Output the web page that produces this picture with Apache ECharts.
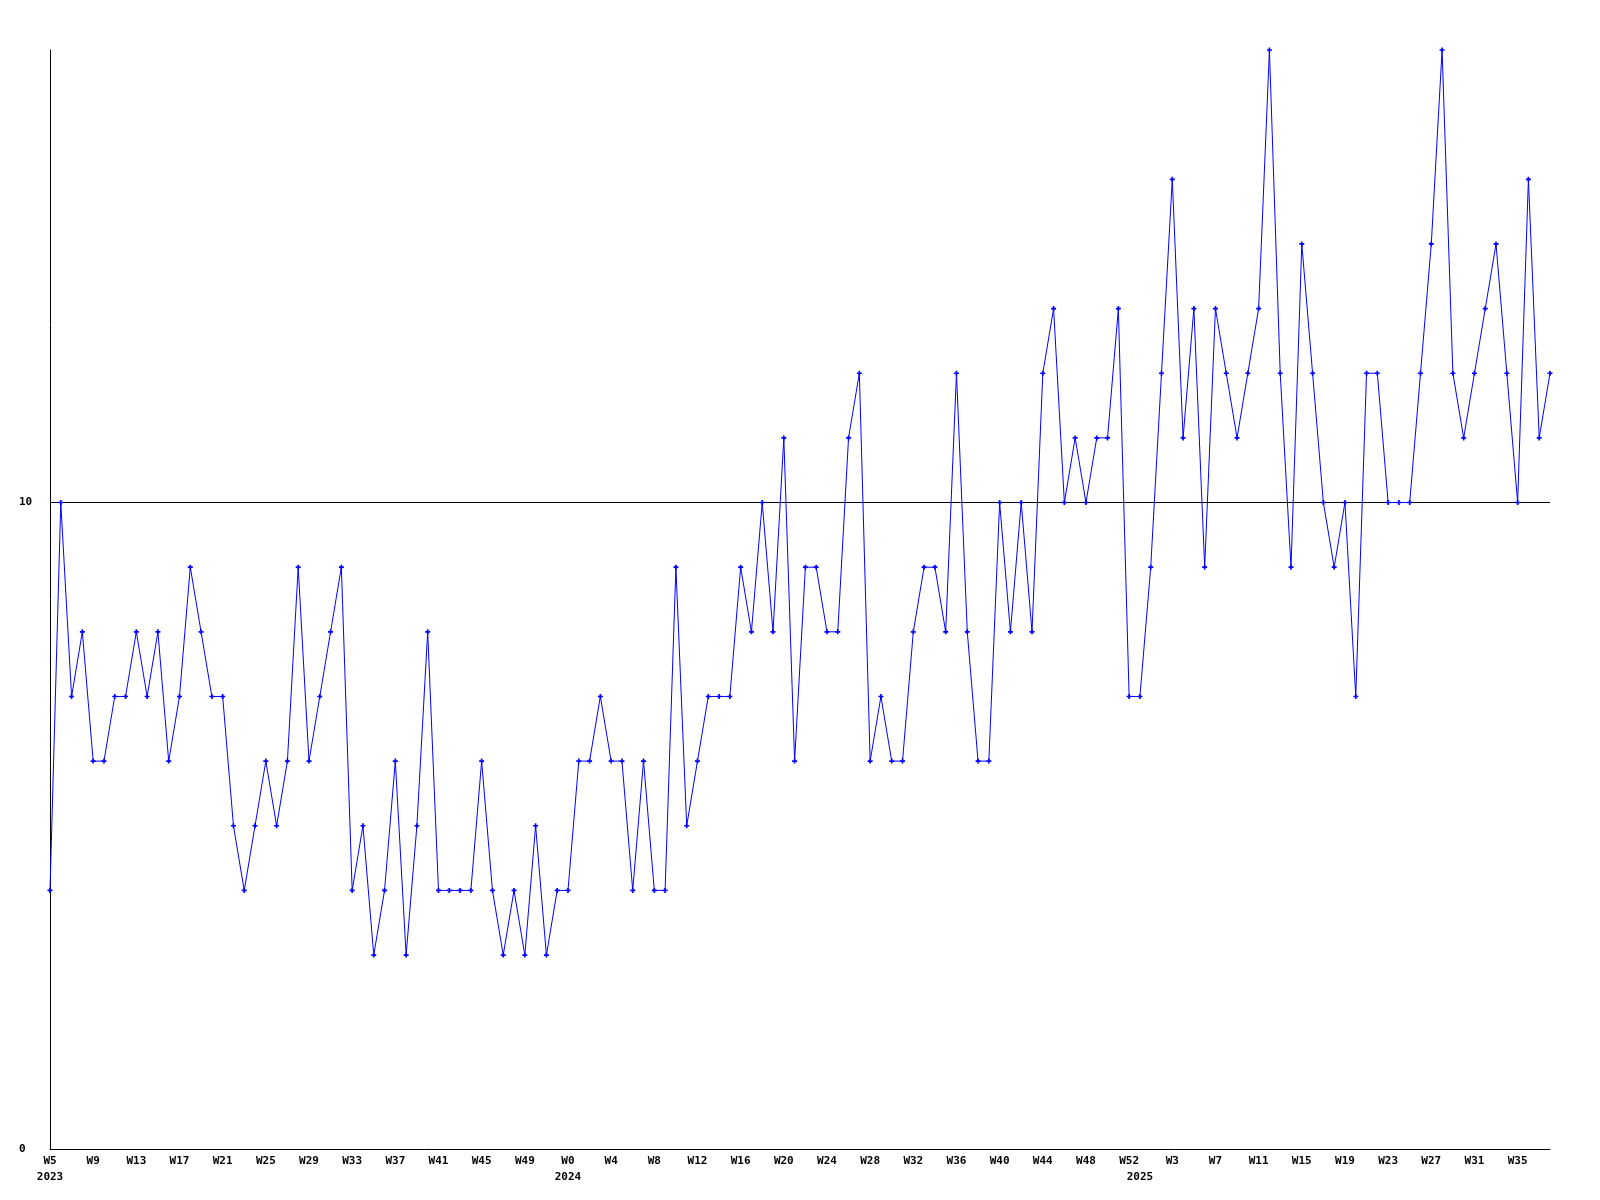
<!DOCTYPE html>
<html>
<head>
<meta charset="utf-8">
<script src="https://cdn.jsdelivr.net/npm/echarts@6/dist/echarts.min.js"></script>
<style>
html, body { margin: 0; padding: 0; background: #ffffff; }
#chart { width: 1600px; height: 1200px; }
</style>
</head>
<body>
<div id="chart"></div>
<script>
// Week ranges per year: [year, firstWeek, lastWeek]
const yearSegments = [[2023, 5, 52], [2024, 0, 52], [2025, 0, 38]];

// Weekly values, W5 2023 .. W38 2025
const values = [
  4, 10, 7, 8, 6, 6, 7, 7, 8, 7,
  8, 6, 7, 9, 8, 7, 7, 5, 4, 5,
  6, 5, 6, 9, 6, 7, 8, 9, 4, 5,
  3, 4, 6, 3, 5, 8, 4, 4, 4, 4,
  6, 4, 3, 4, 3, 5, 3, 4, 4, 6,
  6, 7, 6, 6, 4, 6, 4, 4, 9, 5,
  6, 7, 7, 7, 9, 8, 10, 8, 11, 6,
  9, 9, 8, 8, 11, 12, 6, 7, 6, 6,
  8, 9, 9, 8, 12, 8, 6, 6, 10, 8,
  10, 8, 12, 13, 10, 11, 10, 11, 11, 13,
  7, 7, 9, 12, 15, 11, 13, 9, 13, 12,
  11, 12, 13, 17, 12, 9, 14, 12, 10, 9,
  10, 7, 12, 12, 10, 10, 10, 12, 14, 17,
  12, 11, 12, 13, 14, 12, 10, 15, 11, 12
];

const yTicks = [0, 10];
const yMax = 17;

const weekLabels = [];
const yearLabels = [];
yearSegments.forEach(function (seg) {
  for (let w = seg[1]; w <= seg[2]; w++) {
    weekLabels.push('W' + w);
    yearLabels.push(w === seg[1] ? String(seg[0]) : '');
  }
});

const chart = echarts.init(document.getElementById('chart'), null, { renderer: 'canvas' });
const font = "'DejaVu Sans Mono', monospace";

chart.setOption({
  animation: false,
  backgroundColor: '#ffffff',
  grid: { left: 50, right: 50, top: 50, bottom: 51, containLabel: false },
  xAxis: {
    type: 'category',
    data: weekLabels,
    boundaryGap: false,
    axisLine: { show: true, lineStyle: { color: '#000000', width: 1 } },
    axisTick: { show: false },
    splitLine: { show: false },
    axisLabel: {
      show: true,
      interval: function (idx) { return idx % 4 === 0 || yearLabels[idx] !== ''; },
      formatter: function (value, idx) {
        const top = idx % 4 === 0 ? value : '';
        return yearLabels[idx] !== '' ? top + '\n' + yearLabels[idx] : top;
      },
      margin: 4,
      color: '#000000',
      fontFamily: font,
      fontWeight: 'bold',
      fontSize: 11,
      lineHeight: 16,
      align: 'center',
      verticalAlign: 'top'
    }
  },
  yAxis: {
    type: 'value',
    min: yTicks[0],
    max: yMax,
    interval: yTicks[1] - yTicks[0],
    axisLine: { show: true, lineStyle: { color: '#000000', width: 1 } },
    axisTick: { show: false },
    splitLine: { show: false },
    axisLabel: {
      show: true,
      showMaxLabel: false,
      margin: 31,
      align: 'left',
      color: '#000000',
      fontFamily: font,
      fontWeight: 'bold',
      fontSize: 11
    }
  },
  series: [{
    type: 'line',
    data: values,
    symbol: 'path://M1,0H2V1H3V2H2V3H1V2H0V1H1Z',
    symbolSize: 5,
    showAllSymbol: true,
    lineStyle: { color: '#0000ff', width: 1 },
    itemStyle: { color: '#0000ff' },
    emphasis: { disabled: true },
    z: 3,
    markLine: {
      silent: true,
      symbol: 'none',
      label: { show: false },
      lineStyle: { color: '#000000', width: 1, type: 'solid' },
      emphasis: { disabled: true },
      z: 1,
      data: [{ yAxis: yTicks[1] }]
    }
  }]
});
</script>
</body>
</html>
